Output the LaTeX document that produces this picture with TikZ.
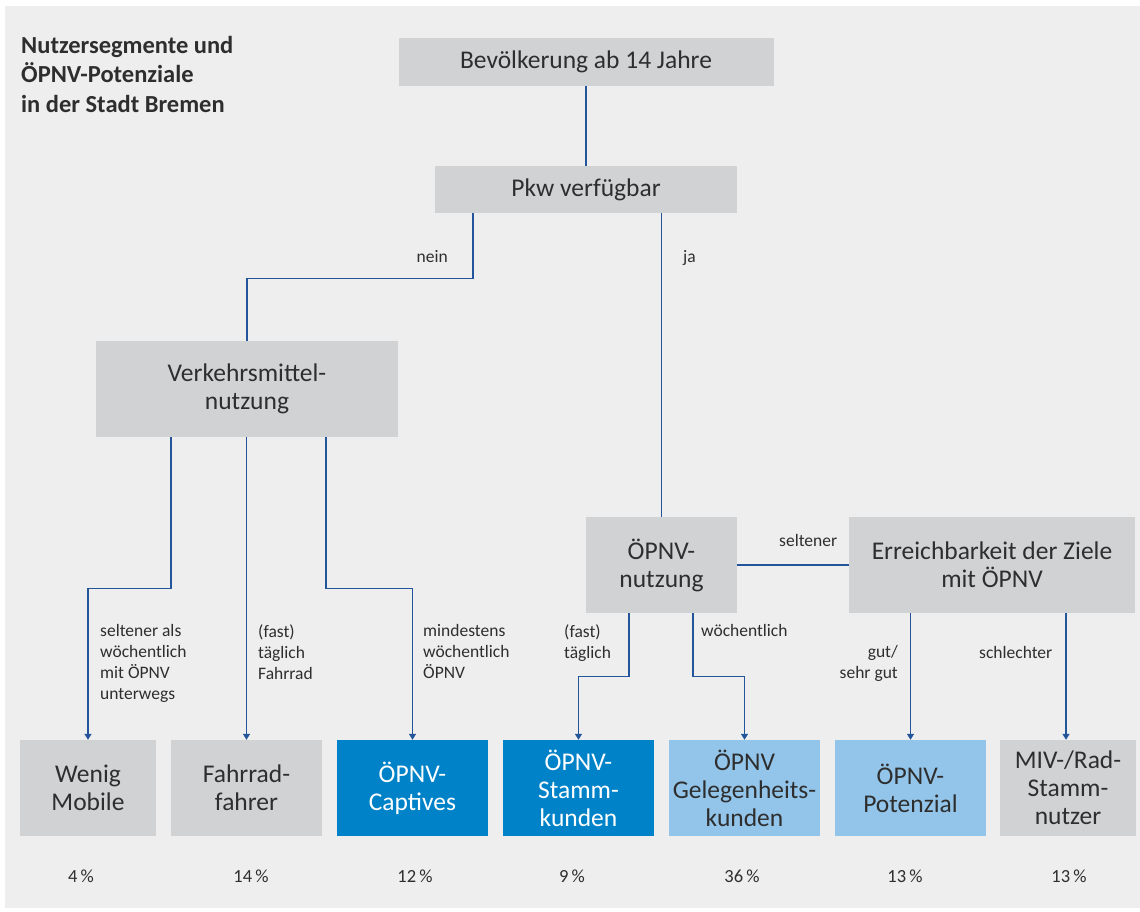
\documentclass[tikz,border=0pt]{standalone}
\usepackage{fontspec}
\setmainfont{Carlito}
\usetikzlibrary{arrows.meta}
\definecolor{panel}{HTML}{EEEEEE}
\definecolor{boxgray}{HTML}{D1D2D4}
\definecolor{darkblue}{HTML}{0082C8}
\definecolor{lightblue}{HTML}{93C5EA}
\definecolor{txt}{HTML}{2E2E2E}
\definecolor{linec}{HTML}{23559B}
\begin{document}
\begin{tikzpicture}[x=1pt,y=-1pt,
  box/.style={fill=boxgray, text=txt, inner sep=0pt, align=center,
    font=\fontsize{25.5}{28}\selectfont},
  dbox/.style={box, fill=darkblue, text=white},
  lbox/.style={box, fill=lightblue},
  conn/.style={draw=linec, line width=1.3pt},
  arr/.style={conn, -{Triangle[length=6pt,width=7pt]}},
  lbl/.style={font=\fontsize{17.5}{21}\selectfont, text=txt, inner sep=0pt},
  pct/.style={font=\fontsize{18.5}{20}\selectfont, text=txt, inner sep=0pt, anchor=base}]
\useasboundingbox (0,0) rectangle (1140,911);
\fill[panel] (5,6) rectangle (1140,908);

% title
\node[anchor=north west, inner sep=0pt, align=left, text=txt,
  font=\fontsize{24.5}{29.5}\selectfont\bfseries] (title) at (21,36)
  {Nutzersegmente und\\ÖPNV-Potenziale\\in der Stadt Bremen};

% boxes
\node[box, minimum width=375pt, minimum height=48pt] (bev) at (586,62) {Bevölkerung ab 14 Jahre};
\node[box, minimum width=302pt, minimum height=47pt] (pkw) at (586,189.5) {Pkw verfügbar};
\node[box, minimum width=302pt, minimum height=96pt] (verk) at (247,389) {Verkehrsmittel-\\nutzung};
\node[box, minimum width=151pt, minimum height=96pt] (opnv) at (661.5,565) {ÖPNV-\\nutzung};
\node[box, minimum width=286pt, minimum height=96pt] (erre) at (992,565) {Erreichbarkeit der Ziele\\mit ÖPNV};

\node[box, minimum width=136pt, minimum height=96pt] (wenig) at (88,788) {Wenig\\Mobile};
\node[box, minimum width=151pt, minimum height=96pt] (fahr) at (246.5,788) {Fahrrad-\\fahrer};
\node[dbox, minimum width=151pt, minimum height=96pt] (capt) at (412.5,788) {ÖPNV-\\Captives};
\node[dbox, minimum width=151pt, minimum height=96pt] (stamm) at (578.5,788) {ÖPNV-\\Stamm-\\kunden};
\node[lbox, minimum width=151pt, minimum height=96pt] (gel) at (744.5,788) {ÖPNV\\Gelegenheits-\\kunden};
\node[lbox, minimum width=151pt, minimum height=96pt] (pot) at (910.5,788) {ÖPNV-\\Potenzial};
\node[box, minimum width=136pt, minimum height=96pt] (miv) at (1068,788) {MIV-/Rad-\\Stamm-\\nutzer};

% connectors
\draw[conn] (bev.south) -- (pkw.north);
\draw[conn] ([xshift=-113pt]pkw.south) -- ++(0,65) -| (verk.north);
\draw[conn] (opnv.north |- pkw.south) -- (opnv.north);
\draw[arr] ([xshift=-76pt]verk.south) -- ++(0,151) -| (wenig.north);
\draw[arr] (fahr.north |- verk.south) -- (fahr.north);
\draw[arr] ([xshift=79pt]verk.south) -- ++(0,151) -| (capt.north);
\draw[arr] ([xshift=-32.5pt]opnv.south) -- ++(0,63) -| (stamm.north);
\draw[arr] ([xshift=31.5pt]opnv.south) -- ++(0,63) -| (gel.north);
\draw[conn] (opnv.east) -- (erre.west);
\draw[arr] (pot.north |- erre.south) -- (pot.north);
\draw[arr] ([xshift=-2pt]miv.north |- erre.south) -- ([xshift=-2pt]miv.north);

% labels
\node[lbl, anchor=base east] (lnein) at (448,262) {nein};
\node[lbl, anchor=base west] (lja) at (683,262) {ja};
\node[lbl, anchor=north west, align=left] (l1) at (100,624) {seltener als\\wöchentlich\\mit ÖPNV\\unterwegs};
\node[lbl, anchor=north west, align=left] (l2) at (258,624) {(fast)\\täglich\\Fahrrad};
\node[lbl, anchor=north west, align=left] (l3) at (423,624) {mindestens\\wöchentlich\\ÖPNV};
\node[lbl, anchor=base west] (l4) at (779,546) {seltener};
\node[lbl, anchor=north west, align=left] (l5) at (564,624) {(fast)\\täglich};
\node[lbl, anchor=north west, align=left] (l6) at (701,624) {wöchentlich};
\node[lbl, anchor=north east, align=right] (l7) at (898,645) {gut/\\sehr gut};
\node[lbl, anchor=base west] (l8) at (979,658) {schlechter};

% percentages
\node[pct] (p1) at (81,882) {4\,\%};
\node[pct] (p2) at (251,882) {14\,\%};
\node[pct] (p3) at (415,882) {12\,\%};
\node[pct] (p4) at (572,882) {9\,\%};
\node[pct] (p5) at (742,882) {36\,\%};
\node[pct] (p6) at (905,882) {13\,\%};
\node[pct] (p7) at (1069,882) {13\,\%};
\end{tikzpicture}
\end{document}
